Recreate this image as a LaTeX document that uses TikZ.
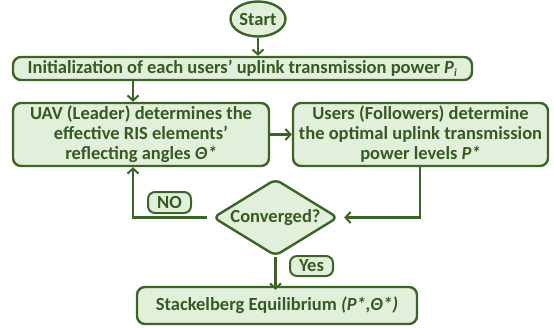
\documentclass[tikz,border=0pt]{standalone}
\usepackage{fontspec}
\setmainfont{Carlito}
\usetikzlibrary{shapes.geometric,arrows.meta}
\definecolor{dg}{HTML}{3C6428}
\definecolor{tg}{HTML}{355A23}
\definecolor{lg}{HTML}{E2EFDA}
\tikzset{
  box/.style={draw=dg, fill=lg, line width=2.4pt, rounded corners=8pt, inner sep=0pt, align=center, text=tg, font=\fontsize{18.5}{20}\selectfont\bfseries},
  lbl/.style={box, rounded corners=7pt, line width=2pt},
  arr/.style={draw=dg, line width=2.2pt, -{Straight Barb[length=5pt,width=11pt,line width=2pt]}},
}
\begin{document}
\begin{tikzpicture}[x=1pt,y=-1pt]
\useasboundingbox (0,0) rectangle (554,327);
\node[box, ellipse, minimum width=55pt, minimum height=35pt] (start) at (258,19) {Start};
\node[box, minimum width=459pt, minimum height=23pt] (init) at (242.5,68.5) {Initialization of each users’ uplink transmission power \textit{P\textsubscript{\fontsize{11}{11}\selectfont i}}};
\node[box, minimum width=256pt, minimum height=63pt] (uav) at (141,134.5) {UAV (Leader) determines the\\effective RIS elements’\\reflecting angles \textit{Θ*}};
\node[box, minimum width=255pt, minimum height=63pt] (users) at (420.5,134.5) {Users (Followers) determine\\the optimal uplink transmission\\power levels \textit{P*}};
\node[box, diamond, aspect=1.62, rounded corners=6pt, minimum width=125pt, minimum height=77pt] (conv) at (275.5,217.5) {Converged?};
\node[box, minimum width=280pt, minimum height=37pt] (stack) at (277,305.5) {Stackelberg Equilibrium \textit{(P*,Θ*)}};
\node[lbl, minimum width=43pt, minimum height=21pt] (no) at (169.5,202.5) {NO};
\node[lbl, minimum width=43pt, minimum height=20pt] (yes) at (311.5,266) {Yes};
\coordinate (c1) at (133,0);
\coordinate (c2) at (420,0);
\draw[arr] (start.south) -- (init.north -| start.south);
\draw[arr] (init.south -| c1) -- (uav.north -| c1);
\draw[arr] (uav.east) -- (users.west);
\draw[arr] (users.south -| c2) -- (c2 |- conv.east) -- ([xshift=5pt]conv.east);
\draw[arr] ([xshift=-5pt]conv.west) -- (c1 |- conv.west) -- (uav.south -| c1);
\draw[arr] (conv.south) -- ([yshift=-4pt]stack.north -| conv.south);
\end{tikzpicture}
\end{document}
